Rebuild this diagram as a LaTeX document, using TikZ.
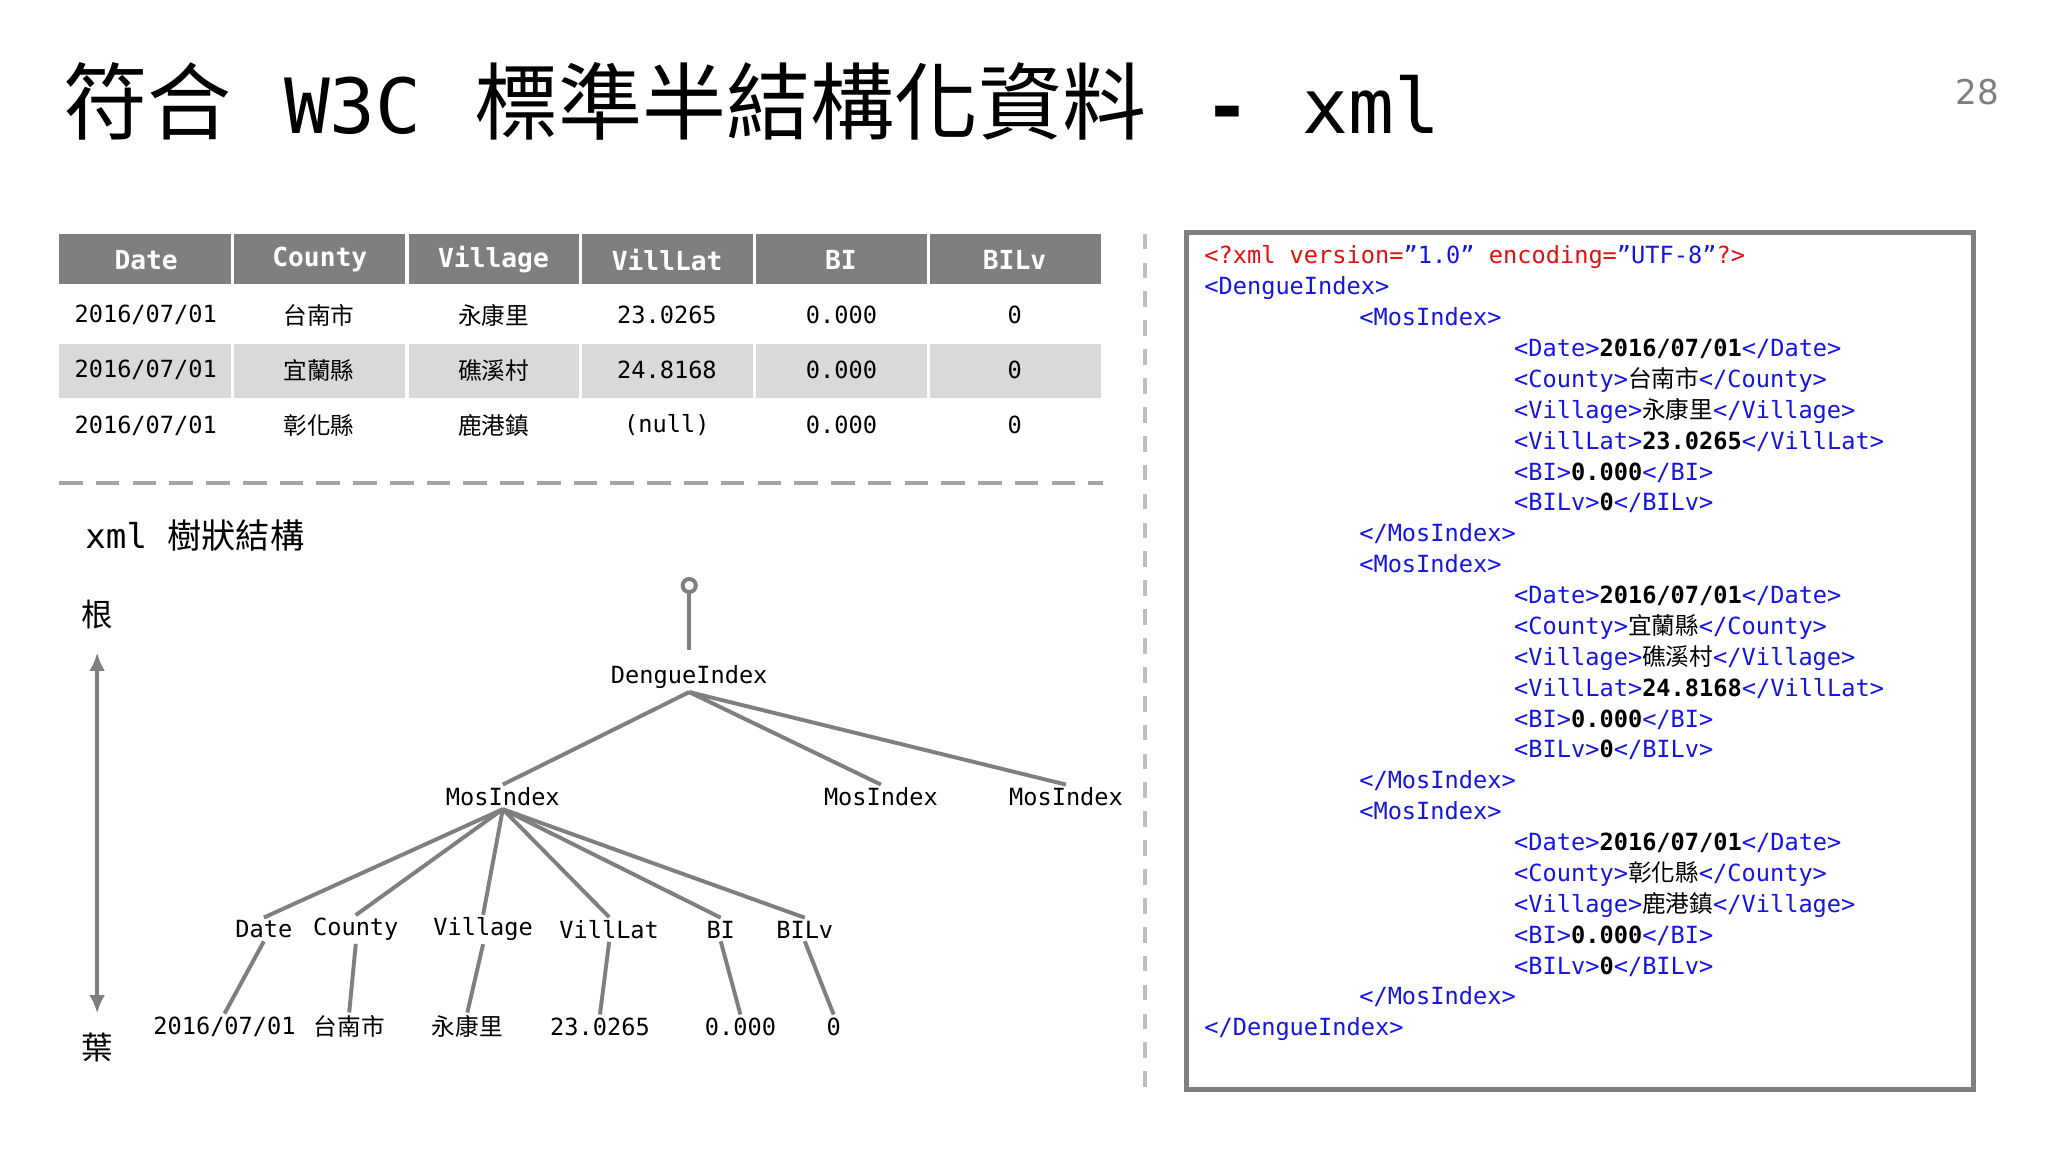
\documentclass[tikz,border=0pt]{standalone}
\usepackage{fontspec}
\setmainfont{DejaVu Sans Mono}[Ligatures=NoCommon]
\setmonofont{DejaVu Sans Mono}
\newfontfamily\cjk{Noto Sans CJK TC}
\usetikzlibrary{arrows.meta}
\definecolor{hdr}{HTML}{7F7F7F}
\definecolor{rowg}{HTML}{D9D9D9}
\definecolor{tagb}{HTML}{1515E0}
\definecolor{attr}{HTML}{E01010}
\newcommand{\tg}[1]{\textcolor{tagb}{#1}}
\newcommand{\at}[1]{\textcolor{attr}{#1}}
\newcommand{\bv}[1]{\textbf{#1}}
\newcommand{\q}{\char"22\relax}
\tikzset{
 edge/.style={draw=hdr,line width=1.5pt},
 lab/.style={font=\fontsize{9}{11}\selectfont,inner sep=1pt},
 cell/.style={font=\fontsize{9}{11}\selectfont},
 hcell/.style={font=\fontsize{10}{12}\selectfont\bfseries,text=white},
 xl/.style={anchor=base west,font=\fontsize{9}{11}\selectfont,inner sep=0pt}
}
\begin{document}
\begin{tikzpicture}[x=0.5pt,y=-0.5pt]
\useasboundingbox[fill=white] (0,0) rectangle (1560,877.5);
% title
\node[anchor=base west,inner sep=0pt] (title) at (48,102)
 {{\fontsize{32}{36}\selectfont\cjk 符合}\hspace{20pt}{\fontsize{29}{34}\selectfont W3C}\hspace{20pt}{\fontsize{32}{36}\selectfont\cjk 標準半結構化資料}\hspace{22pt}{\fontsize{29}{34}\selectfont\bfseries -}\hspace{20pt}{\fontsize{29}{34}\selectfont xml}};
\node[text=hdr,font=\fontsize{13}{15}\selectfont\sffamily] (pg) at (1506,70) {\fontspec{DejaVu Sans}28};
% table
\fill[hdr] (45,178) rectangle (839,216);
\fill[rowg] (45,262) rectangle (839,303);
\foreach \x in {177,310,442,575,707}{
 \draw[white,line width=1.2pt] (\x,178) -- (\x,216);
 \draw[white,line width=1.2pt] (\x,262) -- (\x,303);}
\foreach \t [count=\i] in {Date,County,Village,VillLat,BI,BILv}
 \node[hcell] (h\i) at (45+132.3*\i-66,198) {\t};
\foreach \r/\y/\c/\v/\l in {1/240/台南市/永康里/23.0265,2/282/宜蘭縣/礁溪村/24.8168,3/324/彰化縣/鹿港鎮/(null)}{
 \node[cell] (r\r a) at (111,\y) {2016/07/01};
 \node[cell] (r\r b) at (243,\y) {\cjk\c};
 \node[cell] (r\r c) at (376,\y) {\cjk\v};
 \node[cell] (r\r d) at (508,\y) {\l};
 \node[cell] (r\r e) at (641,\y) {0.000};
 \node[cell] (r\r f) at (773,\y) {0};}
\draw[hdr!70,line width=1.5pt,dash pattern=on 9pt off 5pt] (45,368) -- (840,368);
\draw[hdr!50,line width=1.5pt,dash pattern=on 6pt off 5pt] (872,178) -- (872,830);
% tree
\node[anchor=west,font=\fontsize{13}{15}\selectfont] (tt) at (58,408) {xml \cjk 樹狀結構};
\node[font=\fontsize{12}{14}\selectfont\cjk] (root) at (74,468) {根};
\node[font=\fontsize{12}{14}\selectfont\cjk] (leaf) at (74,798) {葉};
\draw[hdr,line width=1.5pt,{Latex[length=7pt,width=6pt]}-{Latex[length=7pt,width=6pt]}] (74,497) -- (74,772);
\node[circle,draw=hdr,line width=1.5pt,minimum size=5pt,inner sep=0pt] (top) at (525,446) {};
\node[lab] (D) at (525,516) {DengueIndex};
\draw[edge] (top) -- (525,495);
\node[lab] (M1) at (383,607) {MosIndex};
\node[lab] (M2) at (671,607) {MosIndex};
\node[lab] (M3) at (812,607) {MosIndex};
\foreach \m in {M1,M2,M3}\draw[edge] (D.south) -- (\m.north);
\foreach \n/\x/\t in {a/201/Date,b/271/County,c/368/Village,d/464/VillLat,e/549/BI,f/613/BILv}{
 \node[lab] (c\n) at (\x,708) {\t};
 \draw[edge] (M1.south) -- (c\n.north);}
\node[lab] (la) at (171,782) {2016/07/01};
\node[lab] (lb) at (266,782) {\cjk 台南市};
\node[lab] (lc) at (356,782) {\cjk 永康里};
\node[lab] (ld) at (457,782) {23.0265};
\node[lab] (le) at (564,782) {0.000};
\node[lab] (lf) at (635,782) {0};
\foreach \n in {a,b,c,d,e,f}\draw[edge] (c\n.south) -- (l\n.north);
% xml box
\draw[hdr,line width=2pt] (904,177) rectangle (1503,830);
\def\A{917}\def\B{1035}\def\C{1153}
\newcommand{\xln}[3]{\node[xl] at (#1,{201+23.52*(#2)}) {#3};}
\xln{\A}{0}{\at{<?xml version=}\tg{\q 1.0\q}\at{\ encoding=}\tg{\q UTF-8\q}\at{?>}}
\xln{\A}{1}{\tg{<DengueIndex>}}
\xln{\B}{2}{\tg{<MosIndex>}}
\xln{\C}{3}{\tg{<Date>}\bv{2016/07/01}\tg{</Date>}}
\xln{\C}{4}{\tg{<County>}{\cjk 台南市}\tg{</County>}}
\xln{\C}{5}{\tg{<Village>}{\cjk 永康里}\tg{</Village>}}
\xln{\C}{6}{\tg{<VillLat>}\bv{23.0265}\tg{</VillLat>}}
\xln{\C}{7}{\tg{<BI>}\bv{0.000}\tg{</BI>}}
\xln{\C}{8}{\tg{<BILv>}\bv{0}\tg{</BILv>}}
\xln{\B}{9}{\tg{</MosIndex>}}
\xln{\B}{10}{\tg{<MosIndex>}}
\xln{\C}{11}{\tg{<Date>}\bv{2016/07/01}\tg{</Date>}}
\xln{\C}{12}{\tg{<County>}{\cjk 宜蘭縣}\tg{</County>}}
\xln{\C}{13}{\tg{<Village>}{\cjk 礁溪村}\tg{</Village>}}
\xln{\C}{14}{\tg{<VillLat>}\bv{24.8168}\tg{</VillLat>}}
\xln{\C}{15}{\tg{<BI>}\bv{0.000}\tg{</BI>}}
\xln{\C}{16}{\tg{<BILv>}\bv{0}\tg{</BILv>}}
\xln{\B}{17}{\tg{</MosIndex>}}
\xln{\B}{18}{\tg{<MosIndex>}}
\xln{\C}{19}{\tg{<Date>}\bv{2016/07/01}\tg{</Date>}}
\xln{\C}{20}{\tg{<County>}{\cjk 彰化縣}\tg{</County>}}
\xln{\C}{21}{\tg{<Village>}{\cjk 鹿港鎮}\tg{</Village>}}
\xln{\C}{22}{\tg{<BI>}\bv{0.000}\tg{</BI>}}
\xln{\C}{23}{\tg{<BILv>}\bv{0}\tg{</BILv>}}
\xln{\B}{24}{\tg{</MosIndex>}}
\xln{\A}{25}{\tg{</DengueIndex>}}
\end{tikzpicture}
\end{document}
